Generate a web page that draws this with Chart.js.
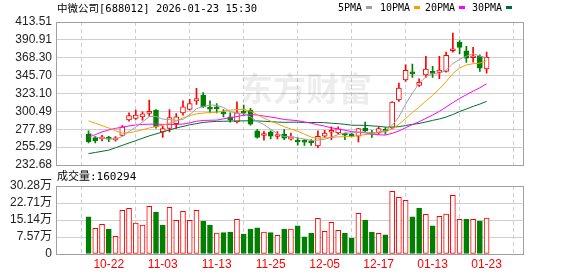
<!DOCTYPE html>
<html lang="zh-CN">
<head>
    <meta charset="UTF-8">
    <title>中微公司 日K</title>
    <script src="https://cdn.jsdelivr.net/npm/chart.js@4.4.1/dist/chart.umd.min.js"></script>
    <style>
        body { margin: 0; background: #fff; }
        #wrap { position: relative; width: 578px; height: 276px; overflow: hidden; }
        canvas { position: absolute; left: 0; display: block; }
        #kline { top: 0; }
        #vol { top: 170px; }
        .txt {
            position: absolute;
            white-space: nowrap;
            font-family: "DejaVu Sans Mono", "Noto Sans CJK SC", monospace;
            color: #000;
        }
        .title { left: 57px; top: 1px; font-size: 10.5px; line-height: 14px; }
        .leg { top: 1px; font-size: 10px; line-height: 14px; }
        .leg i { display: inline-block; width: 6px; height: 3px; margin-left: 4px; vertical-align: 2px; }
        .vol-label { left: 57px; top: 170px; font-size: 11px; line-height: 14px; }
    </style>
</head>
<body>
<div id="wrap">
    <canvas id="kline" width="578" height="180"></canvas>
    <canvas id="vol" width="578" height="106"></canvas>
    <div class="txt title">中微公司[688012] 2026-01-23 15:30</div>
    <div id="legend"></div>
    <div class="txt vol-label" id="volLabel"></div>
</div>
<script>
    const dates = [
        '10-17', '10-20', '10-21', '10-22', '10-23', '10-24', '10-27', '10-28', '10-29', '10-30',
        '10-31', '11-03', '11-04', '11-05', '11-06', '11-07', '11-10', '11-11', '11-12', '11-13',
        '11-14', '11-17', '11-18', '11-19', '11-20', '11-21', '11-24', '11-25', '11-26', '11-27',
        '11-28', '12-01', '12-02', '12-03', '12-04', '12-05', '12-08', '12-09', '12-10', '12-11',
        '12-12', '12-15', '12-16', '12-17', '12-18', '12-19', '12-22', '12-23', '12-24', '12-25',
        '12-26', '01-13', '01-14', '01-15', '01-16', '01-19', '01-20', '01-21', '01-22', '01-23'
    ];
    const xTickLabels = ['10-22', '11-03', '11-13', '11-25', '12-05', '12-17', '01-13', '01-23'];

    const opens = [
        271.6, 267.4, 265.6, 266.1, 264.4, 270.0, 289.7, 291.5, 293.5, 297.8,
        302.0, 274.5, 278.8, 285.1, 298.6, 302.9, 313.8, 321.0, 304.5, 304.3,
        298.2, 293.5, 287.2, 299.5, 302.0, 275.8, 270.0, 274.5, 268.7, 271.6,
        265.3, 264.0, 262.3, 261.8, 256.8, 269.0, 274.1, 273.2, 271.6, 271.6,
        269.0, 279.2, 272.0, 273.2, 276.3, 279.2, 315.0, 340.4, 348.9, 333.3,
        346.7, 349.3, 349.8, 351.0, 377.1, 387.8, 377.1, 368.3, 370.0, 354.3
    ];
    const highs = [
        275.8, 269.0, 270.3, 269.0, 268.7, 282.6, 298.6, 302.0, 299.8, 314.7,
        302.9, 281.7, 302.9, 297.8, 313.8, 315.6, 329.5, 324.4, 313.8, 310.5,
        302.9, 298.6, 312.5, 308.3, 304.2, 277.5, 275.4, 275.8, 275.0, 277.5,
        273.2, 266.9, 264.8, 264.8, 275.8, 276.6, 280.8, 280.8, 273.2, 273.2,
        279.2, 286.8, 276.6, 280.8, 280.1, 313.0, 336.2, 359.4, 360.3, 341.7,
        370.0, 357.4, 370.0, 375.5, 399.6, 389.9, 382.7, 381.4, 372.1, 375.5
    ];
    const lows = [
        260.6, 260.5, 263.1, 262.3, 262.7, 269.0, 288.0, 290.2, 289.3, 294.4,
        279.2, 267.4, 274.5, 278.8, 295.7, 302.0, 309.2, 305.4, 298.6, 298.6,
        293.5, 286.8, 285.9, 295.7, 283.0, 266.5, 264.0, 265.6, 265.6, 264.8,
        264.0, 257.6, 257.3, 257.3, 254.7, 267.4, 264.8, 271.6, 264.8, 268.2,
        261.8, 274.5, 267.4, 271.6, 271.6, 278.3, 313.0, 338.4, 343.4, 332.0,
        343.4, 343.4, 341.7, 350.2, 375.5, 373.3, 362.4, 362.8, 351.0, 348.9
    ];
    const closes = [
        262.3, 263.1, 268.2, 265.3, 266.1, 280.8, 295.3, 295.7, 297.3, 300.7,
        280.8, 278.8, 292.7, 293.5, 306.2, 310.5, 316.8, 306.2, 303.4, 303.8,
        297.3, 289.3, 298.6, 298.2, 284.3, 267.4, 270.7, 269.0, 269.4, 266.5,
        268.2, 261.8, 261.4, 260.6, 269.0, 273.2, 275.0, 278.3, 270.3, 269.0,
        278.8, 275.8, 271.2, 278.8, 275.4, 312.1, 329.9, 352.3, 348.0, 337.1,
        353.9, 348.5, 352.7, 371.3, 378.0, 381.4, 367.9, 369.2, 355.2, 368.8
    ];
    // 成交量, 单位: 万
    const volumes = [
        16.5, 11.4, 13.2, 11.1, 7.9, 19.4, 20.3, 13.8, 12.9, 21.2,
        18.7, 12.9, 20.8, 15.0, 19.0, 15.0, 19.4, 14.7, 12.9, 9.3,
        9.5, 9.8, 15.4, 8.9, 11.1, 11.6, 9.8, 9.5, 8.3, 11.1,
        11.1, 12.5, 7.6, 9.3, 15.9, 10.1, 14.1, 10.5, 9.3, 7.0,
        18.1, 15.1, 9.8, 9.2, 8.5, 27.9, 25.2, 23.9, 16.5, 20.5,
        17.7, 12.5, 16.8, 17.8, 26.1, 15.4, 15.4, 15.4, 14.7, 16.0294
    ];

    const ma5 = [
        274.3, 268.2, 266.5, 265.6, 265.5, 268.7, 275.1, 280.6, 287.0, 294.0,
        294.0, 290.7, 290.1, 289.3, 290.4, 296.3, 303.9, 306.6, 308.6, 308.1,
        305.5, 300.0, 298.5, 297.4, 293.5, 287.6, 283.8, 277.9, 272.2, 268.6,
        268.8, 267.0, 265.5, 263.7, 264.2, 265.2, 267.8, 271.2, 273.2, 273.2,
        274.3, 274.4, 273.0, 274.7, 276.0, 282.7, 293.5, 309.7, 323.5, 335.9,
        344.2, 348.0, 348.0, 352.7, 360.9, 366.4, 370.3, 373.6, 370.3, 368.5
    ];
    const ma10 = [
        288.4, 285.5, 282.5, 279.5, 276.0, 273.0, 273.5, 275.0, 277.3, 279.5,
        281.3, 282.9, 285.4, 288.2, 292.2, 295.2, 297.3, 298.4, 299.0, 299.3,
        300.9, 302.0, 302.6, 303.0, 300.8, 296.5, 291.9, 288.2, 284.8, 281.1,
        278.2, 275.4, 271.7, 267.9, 266.4, 267.0, 267.4, 268.3, 268.4, 268.7,
        269.7, 271.1, 272.1, 273.9, 274.6, 278.5, 284.0, 291.4, 299.1, 305.9,
        313.5, 320.7, 328.9, 338.1, 348.4, 355.3, 359.1, 360.8, 361.5, 364.7
    ];
    const ma20 = [
        268.0, 271.0, 274.5, 277.0, 279.0, 280.5, 282.0, 283.3, 284.0, 284.3,
        284.3, 284.0, 284.0, 284.0, 284.5, 286.0, 288.0, 289.0, 289.3, 289.4,
        291.1, 292.4, 294.0, 295.6, 296.5, 295.8, 294.6, 293.3, 291.9, 290.2,
        289.5, 288.7, 287.1, 285.5, 283.6, 281.8, 279.7, 278.3, 276.6, 274.9,
        274.0, 273.3, 271.9, 270.9, 270.5, 272.7, 275.7, 279.9, 283.8, 287.3,
        291.6, 295.9, 300.5, 306.0, 311.5, 316.9, 321.5, 326.1, 330.3, 335.3
    ];
    const ma30 = [
        247.1, 248.5, 250.0, 251.5, 254.5, 257.5, 260.5, 263.5, 266.5, 269.5,
        272.0, 274.5, 277.0, 279.5, 281.5, 283.5, 285.0, 286.5, 287.3, 287.8,
        288.0, 288.2, 288.4, 288.5, 288.6, 288.4, 288.0, 287.5, 287.0, 286.6,
        286.8, 286.8, 286.5, 286.4, 286.5, 286.2, 285.5, 285.0, 284.1, 283.0,
        282.9, 282.8, 282.1, 281.6, 280.6, 280.7, 281.1, 282.6, 284.1, 285.2,
        287.1, 289.1, 290.9, 293.3, 296.5, 300.3, 303.5, 306.8, 309.7, 313.1
    ];

    const priceTicks = [232.68, 255.29, 277.89, 300.49, 323.10, 345.70, 368.30, 390.91, 413.51];
    const volTicks = [0, 7.57, 15.14, 22.71, 30.28];

    const maNames = ['5PMA', '10PMA', '20PMA', '30PMA'];
    const maLeft = [338, 380, 425, 472];

    const RED = '#ff0000';
    const GREEN = '#008000';
    const maColors = ['#a0a0a0', '#f5a000', '#ff00ff', '#006f2e'];
    const GRID = '#cfcfcf';

    Chart.defaults.font.family = '"Liberation Sans", Arial, sans-serif';
    Chart.defaults.font.size = 12;
    Chart.defaults.color = '#222';

    const idx = dates.map((d, i) => i);
    const tickIdx = xTickLabels.map(d => dates.indexOf(d));
    const candleUp = idx.map(i => closes[i] >= opens[i]);
    const volUp = idx.map(i => i === 0 ? closes[0] >= opens[0] : closes[i] >= closes[i - 1]);

    // legend + volume label
    const legend = document.getElementById('legend');
    maNames.forEach((name, k) => {
        const el = document.createElement('div');
        el.className = 'txt leg';
        el.style.left = maLeft[k] + 'px';
        el.innerHTML = name + '<i style="background:' + maColors[k] + '"></i>';
        legend.appendChild(el);
    });
    document.getElementById('volLabel').textContent =
        '成交量:' + Math.round(volumes[volumes.length - 1] * 10000);

    // grey frame round the plot
    const frame = {
        id: 'frame',
        afterDraw(chart) {
            const { ctx, chartArea: a } = chart;
            ctx.save();
            ctx.strokeStyle = '#a0a0a0';
            ctx.lineWidth = 1;
            ctx.strokeRect(Math.floor(a.left) + 0.5, Math.floor(a.top) + 0.5,
                Math.round(a.right - a.left), Math.round(a.bottom - a.top));
            ctx.restore();
        }
    };

    const watermark = {
        id: 'watermark',
        beforeDatasetsDraw(chart) {
            const ctx = chart.ctx;
            ctx.save();
            ctx.font = 'bold 33px "Noto Sans CJK SC"';
            ctx.fillStyle = 'rgba(0, 0, 0, 0.07)';
            ctx.textAlign = 'left';
            ctx.textBaseline = 'middle';
            ctx.fillText('东方财富', 240, 88);
            ctx.restore();
        }
    };

    function xScale(showLabels, height) {
        return {
            type: 'linear',
            min: -0.5,
            max: 60,
            afterBuildTicks: s => { s.ticks = tickIdx.map(v => ({ value: v })); },
            ticks: {
                display: showLabels,
                autoSkip: false,
                maxRotation: 0,
                color: RED,
                padding: 3,
                callback: v => dates[v]
            },
            grid: { color: GRID, drawTicks: false },
            border: { display: false, dash: [4, 3] },
            afterFit: s => { s.height = height; }
        };
    }

    function yScale(min, max, ticks, fmt) {
        return {
            min: min,
            max: max,
            afterBuildTicks: s => { s.ticks = ticks.map(v => ({ value: v })); },
            ticks: { padding: 4, autoSkip: false, callback: fmt },
            grid: { color: GRID, drawTicks: false },
            border: { display: false },
            afterFit: s => { s.width = 56; }
        };
    }

    const maSets = [ma5, ma10, ma20, ma30].map((arr, k) => ({
        type: 'line',
        label: maNames[k],
        data: arr.map((v, i) => ({ x: i, y: v })),
        borderColor: maColors[k],
        borderWidth: 1,
        pointRadius: 0,
        tension: 0
    }));

    new Chart(document.getElementById('kline'), {
        type: 'bar',
        data: {
            datasets: [
                ...maSets,
                {
                    label: 'body',
                    data: idx.map(i => ({ x: i, y: [Math.min(opens[i], closes[i]), Math.max(opens[i], closes[i])] })),
                    backgroundColor: idx.map(i => candleUp[i] ? '#ffffff' : GREEN),
                    borderColor: idx.map(i => candleUp[i] ? RED : GREEN),
                    borderWidth: 1,
                    borderSkipped: false,
                    barThickness: 5,
                    minBarLength: 2,
                    grouped: false
                },
                {
                    label: 'wick',
                    data: idx.map(i => ({ x: i, y: [lows[i], highs[i]] })),
                    backgroundColor: idx.map(i => candleUp[i] ? RED : GREEN),
                    barThickness: 1,
                    grouped: false
                }
            ]
        },
        options: {
            responsive: false,
            animation: false,
            layout: { padding: { top: 22, right: 55.5, bottom: 0, left: 0 } },
            plugins: { legend: { display: false }, tooltip: { enabled: false } },
            scales: {
                x: xScale(false, 15),
                y: yScale(232.68, 413.51, priceTicks, v => v.toFixed(2))
            }
        },
        plugins: [watermark, frame]
    });

    new Chart(document.getElementById('vol'), {
        type: 'bar',
        data: {
            datasets: [{
                label: '成交量',
                data: idx.map(i => ({ x: i, y: volumes[i] })),
                backgroundColor: idx.map(i => volUp[i] ? '#ffffff' : GREEN),
                borderColor: idx.map(i => volUp[i] ? RED : GREEN),
                borderWidth: 1,
                borderSkipped: false,
                barThickness: 5,
                grouped: false
            }]
        },
        options: {
            responsive: false,
            animation: false,
            layout: { padding: { top: 16, right: 55.5, bottom: 0, left: 0 } },
            plugins: { legend: { display: false }, tooltip: { enabled: false } },
            scales: {
                x: xScale(true, 22),
                y: yScale(0, 30.28, volTicks, v => v === 0 ? '0' : v.toFixed(2) + '万')
            }
        },
        plugins: [frame]
    });
</script>
</body>
</html>
